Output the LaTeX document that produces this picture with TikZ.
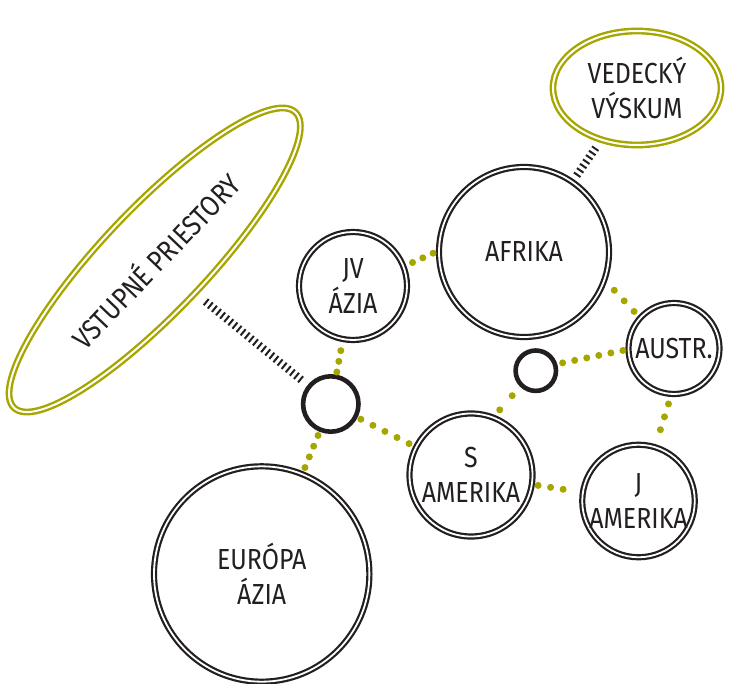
\documentclass[tikz,border=0pt]{standalone}
\usepackage{fontspec}
\setmainfont{Fira Sans}[FakeStretch=0.86]
\usetikzlibrary{shapes.geometric}
\definecolor{oliv}{RGB}{166,166,0}
\definecolor{ink}{RGB}{35,31,32}

\begin{document}
\begin{tikzpicture}[x=0.5pt,y=-0.5pt,
  region/.style={circle,draw=ink,text=ink,double,double distance=0.9pt,line width=1.1pt,inner sep=0pt,outer sep=0pt,align=center,font=\fontsize{14.5}{17.5}\selectfont},
  hub/.style={circle,draw=ink,line width=2.3pt,inner sep=0pt,outer sep=0pt},
  bubble/.style={ellipse,draw=oliv,text=ink,double,double distance=1pt,line width=1.2pt,inner sep=0pt,outer sep=0pt,align=center,font=\fontsize{14.5}{17.5}\selectfont},
  dots/.style={oliv,line width=3.5pt,line cap=round,dash pattern=on 0pt off #1},
  dots/.default=6pt,
  hatch/.style={ink,line width=4pt,dash pattern=on 1pt off 1.65pt}]
\useasboundingbox (0,0) rectangle (733,684);
\node[bubble,rotate=46.4,minimum width=204pt,minimum height=52pt] (prior) at (154.7,260) {VSTUPNÉ PRIESTORY};
\node[bubble,minimum width=84pt,minimum height=57pt] (veda) at (637,88) {VEDECKÝ\\VÝSKUM};
\node[region,minimum size=85pt] (afrika) at (524,252) {AFRIKA};
\node[region,minimum size=54pt] (jvazia) at (353,286) {JV\\ÁZIA};
\node[region,minimum size=45.5pt] (austr) at (674,348.5) {AUSTR.};
\node[region,minimum size=54.5pt] (jamer) at (638.5,501) {J\\AMERIKA};
\node[region,minimum size=61.5pt] (samer) at (471,475) {S\\AMERIKA};
\node[region,minimum size=107.7pt] (eurazia) at (261.7,574) {EURÓPA\\ÁZIA};
\node[hub,minimum size=27.7pt] (hubw) at (330.8,404) {};
\node[hub,minimum size=20.2pt] (hube) at (535.8,370.7) {};
% hatched links
\draw[hatch,shorten <=6.7pt,shorten >=5pt] (prior) -- (hubw);
\draw[hatch,shorten <=3.9pt,shorten >=5pt] (afrika) -- (veda);
% dotted links
\draw[dots=5.43pt,shorten <=5.9pt,shorten >=2.1pt] (jvazia) -- (hubw);
\draw[dots=5.77pt,shorten <=3.15pt,shorten >=3.2pt] (hubw) -- (eurazia);
\draw[dots=6.75pt,shorten <=3pt,shorten >=3.6pt] (hubw) -- (samer);
\draw[dots=5.65pt,shorten <=5pt,shorten >=2.8pt] (jvazia.21) -- (afrika.179);
\draw[dots=7.25pt,shorten <=7.25pt,shorten >=4pt] (afrika.-19) -- (austr.138);
\draw[dots=6.15pt,shorten <=3.9pt,shorten >=2.3pt] (hube.18) -- (austr.181);
\draw[dots=9.45pt,shorten <=7.1pt,shorten >=4.7pt] (hube.225) -- (samer.69);
\draw[dots=6.33pt,shorten <=3.2pt,shorten >=4.1pt] (samer) -- (jamer);
\draw[dots=6.75pt,shorten <=5.25pt,shorten >=2.8pt] (austr.267) -- (jamer.73);
\end{tikzpicture}
\end{document}
